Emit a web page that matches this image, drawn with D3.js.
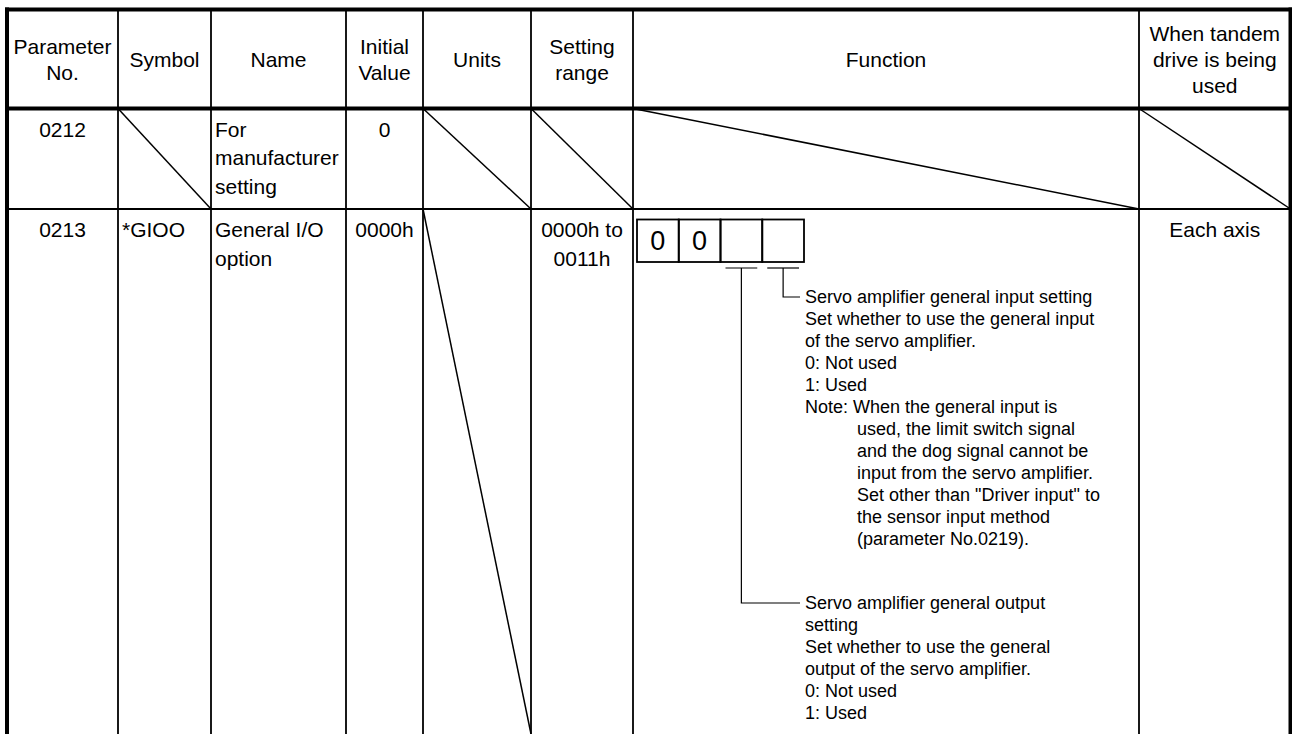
<!DOCTYPE html>
<html><head><meta charset="utf-8">
<script src="https://cdn.jsdelivr.net/npm/d3@7"></script>
<style>html,body{margin:0;padding:0;background:#fff;overflow:hidden} svg{display:block}</style>
</head><body>
<svg id="c" width="1292" height="734"></svg>
<script>
// ---------- DATA ----------
const columnKeys = ["no","sym","name","init","units","range","func","tandem"];
const headers = [["Parameter","No."],["Symbol"],["Name"],["Initial","Value"],["Units"],["Setting","range"],["Function"],["When tandem","drive is being","used"]];
const paramNos = ["0212","0213"];
const symbols = [null, ["*GIOO"]];
const names = [["For","manufacturer","setting"],["General I/O","option"]];
const initialValues = [["0"],["0000h"]];
const settingRanges = [null, ["0000h to","0011h"]];
const tandemUse = [null, ["Each axis"]];
// cells crossed out by a diagonal, per row
const slashedCells = [["sym","units","range","func","tandem"],[]];
const digitCells = ["0","0","",""];
const inputSettingText = ["Servo amplifier general input setting","Set whether to use the general input","of the servo amplifier.","0: Not used","1: Used"];
const noteText = ["Note: When the general input is","used, the limit switch signal","and the dog signal cannot be","input from the servo amplifier.","Set other than \"Driver input\" to","the sensor input method","(parameter No.0219)."];
const outputSettingText = ["Servo amplifier general output","setting","Set whether to use the general","output of the servo amplifier.","0: Not used","1: Used"];

// ---------- LAYOUT ----------
const W = 1292, H = 734;
const colEdges = [7,118,211,346,423,531,633,1139,1290.5];
const rowEdges = [9.5,108.5,209,734];
const xL = d3.scaleOrdinal().domain(columnKeys).range(colEdges.slice(0,-1));
const xR = d3.scaleOrdinal().domain(columnKeys).range(colEdges.slice(1));
const xC = k => (xL(k)+xR(k))/2;
const FONT = "'Liberation Sans', Arial, Helvetica, sans-serif";
const bodySize = 21, lineH = 28.5, smallSize = 18, smallH = 22;

const svg = d3.select("#c");
svg.append("rect").attr("width",W).attr("height",H).attr("fill","#fff");
const g = svg.append("g");

function lines(textArr, x, yFirstCenter, anchor, size, lh){
  const t = g.append("text").attr("font-family",FONT).attr("font-size",size).attr("fill","#000").attr("text-anchor",anchor);
  textArr.forEach((s,i)=>{
    t.append("tspan").attr("x",x).attr("y",yFirstCenter + i*lh + size*0.36).text(s);
  });
  return t;
}

// ---------- GRID ----------
// inner vertical lines
g.selectAll("line.v").data(colEdges.slice(1,-1)).join("line")
  .attr("x1",d=>d).attr("x2",d=>d).attr("y1",rowEdges[0]).attr("y2",H)
  .attr("stroke","#000").attr("stroke-width",1.8);
// row separator
g.append("line").attr("x1",colEdges[0]).attr("x2",colEdges[8]).attr("y1",rowEdges[2]).attr("y2",rowEdges[2]).attr("stroke","#000").attr("stroke-width",1.8);
// header bottom (thick)
g.append("line").attr("x1",colEdges[0]).attr("x2",colEdges[8]).attr("y1",rowEdges[1]).attr("y2",rowEdges[1]).attr("stroke","#000").attr("stroke-width",4);
// outer border top/left/right
g.append("line").attr("x1",colEdges[0]-2).attr("x2",colEdges[8]+2).attr("y1",rowEdges[0]).attr("y2",rowEdges[0]).attr("stroke","#000").attr("stroke-width",4);
g.append("line").attr("x1",colEdges[0]).attr("x2",colEdges[0]).attr("y1",rowEdges[0]-2).attr("y2",H).attr("stroke","#000").attr("stroke-width",4);
g.append("line").attr("x1",colEdges[8]).attr("x2",colEdges[8]).attr("y1",rowEdges[0]-2).attr("y2",H).attr("stroke","#000").attr("stroke-width",4);

// diagonals for empty cells
slashedCells.forEach((keys,r)=>{
  keys.forEach(k=>{
    g.append("line").attr("x1",xL(k)).attr("y1",rowEdges[r+1]).attr("x2",xR(k)).attr("y2",rowEdges[r+2])
      .attr("stroke","#000").attr("stroke-width",1.5);
  });
});
// units cell of row 0213: diagonal from top-left to bottom-right of visible area
g.append("line").attr("x1",xL("units")).attr("y1",rowEdges[2]).attr("x2",xR("units")).attr("y2",H)
  .attr("stroke","#000").attr("stroke-width",1.5);

// ---------- HEADER TEXT ----------
const hTop = rowEdges[0], hBot = rowEdges[1], hLH = 26;
headers.forEach((arr,i)=>{
  const k = columnKeys[i];
  const mid = (hTop+hBot)/2;
  const first = mid - (arr.length-1)*hLH/2;
  lines(arr, xC(k), first, "middle", bodySize, hLH);
});

// ---------- BODY TEXT ----------
const firstOffset = 20.5;
paramNos.forEach((s,r)=>{
  const y = rowEdges[r+1]+firstOffset;
  lines([s], xC("no"), y, "middle", bodySize, lineH);
  if (symbols[r]) lines(symbols[r], xL("sym")+4, y, "start", bodySize, lineH);
  lines(names[r], xL("name")+4, y, "start", bodySize, lineH);
  lines(initialValues[r], xC("init"), y, "middle", bodySize, lineH);
  if (settingRanges[r]) lines(settingRanges[r], xC("range"), y, "middle", bodySize, lineH);
  if (tandemUse[r]) lines(tandemUse[r], xC("tandem"), y, "middle", bodySize, lineH);
});

// ---------- FUNCTION DIAGRAM ----------
const boxX = d3.scaleBand().domain(d3.range(digitCells.length)).range([637,804]);
const boxTop = 219.5, boxBot = 262;
g.selectAll("rect.cell").data(digitCells).join("rect")
  .attr("x",(d,i)=>boxX(i)).attr("y",boxTop).attr("width",boxX.bandwidth()).attr("height",boxBot-boxTop)
  .attr("fill","none").attr("stroke","#000").attr("stroke-width",1.8);
g.selectAll("text.dig").data(digitCells).join("text")
  .attr("x",(d,i)=>boxX(i)+boxX.bandwidth()/2).attr("y",(boxTop+boxBot)/2+9.5)
  .attr("text-anchor","middle").attr("font-family",FONT).attr("font-size",27).text(d=>d);

const textX = 805, noteIndent = 857;
const yText = d3.scaleLinear().domain([0,1]).range([297,297+smallH]);
// input setting block (lines 0..4), note (5..11)
lines(inputSettingText, textX, yText(0), "start", smallSize, smallH);
noteText.forEach((s,i)=>{
  lines([s], i===0?textX:noteIndent, yText(5+i), "start", smallSize, smallH);
});
const outFirst = 603;
lines(outputSettingText, textX, outFirst, "start", smallSize, smallH);

// brackets
const bw = 1.2, barY = 268;
[2,3].forEach(i=>{
  g.append("line").attr("x1",boxX(i)+5).attr("x2",boxX(i)+boxX.bandwidth()-5).attr("y1",barY).attr("y2",barY).attr("stroke","#000").attr("stroke-width",bw);
});
const c3 = boxX(2)+boxX.bandwidth()/2, c4 = boxX(3)+boxX.bandwidth()/2;
g.append("path").attr("d",`M${c4},${barY}V${yText(0)}H${textX-5}`).attr("fill","none").attr("stroke","#000").attr("stroke-width",bw);
g.append("path").attr("d",`M${c3},${barY}V${outFirst}H${textX-5}`).attr("fill","none").attr("stroke","#000").attr("stroke-width",bw);
</script>
</body></html>
